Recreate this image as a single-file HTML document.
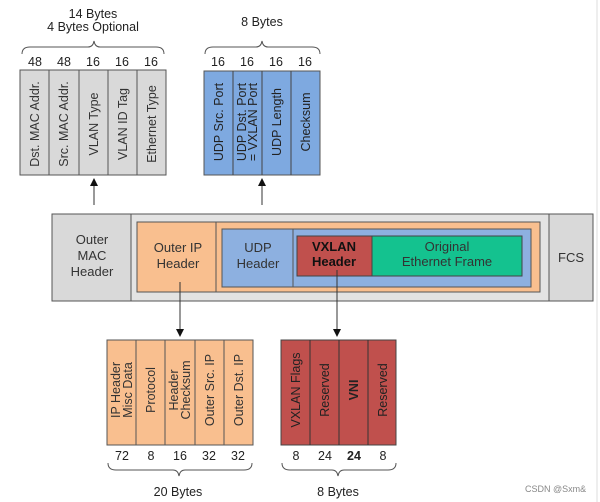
<!DOCTYPE html>
<html><head><meta charset="utf-8"><style>
html,body{margin:0;padding:0;background:#fff;}
svg{display:block;font-family:"Liberation Sans","DejaVu Sans",sans-serif;}
</style></head><body>
<svg width="600" height="502" viewBox="0 0 600 502" xmlns="http://www.w3.org/2000/svg">
<defs><marker id="ah" markerWidth="8" markerHeight="8" refX="4" refY="4" orient="auto"><path d="M0,0 L8,4 L0,8 z" fill="#111"/></marker></defs>
<line x1="597" y1="0" x2="597" y2="502" stroke="#ddd" stroke-width="1"/>
<text x="93" y="18" font-size="12.5" text-anchor="middle" fill="#222">14 Bytes</text>
<text x="93" y="31" font-size="12.5" text-anchor="middle" fill="#222">4 Bytes Optional</text>
<path d="M22,54 Q22,47 30,47 L88,47 Q93,47 94,41 Q95,47 100,47 L156,47 Q164,47 164,54" fill="none" stroke="#555" stroke-width="1"/>
<g font-size="12.5" text-anchor="middle" fill="#222">
<text x="35" y="66">48</text><text x="64" y="66">48</text><text x="93" y="66">16</text><text x="122" y="66">16</text><text x="151" y="66">16</text>
</g>
<rect x="20" y="70" width="146" height="105" fill="#d9d9d9" stroke="#555"/>
<g stroke="#555"><line x1="49" y1="70" x2="49" y2="175"/><line x1="79" y1="70" x2="79" y2="175"/><line x1="108" y1="70" x2="108" y2="175"/><line x1="137" y1="70" x2="137" y2="175"/></g>
<g font-size="12.5" fill="#333" text-anchor="middle">
<text transform="translate(39,124) rotate(-90)">Dst. MAC Addr.</text>
<text transform="translate(68,124) rotate(-90)">Src. MAC Addr.</text>
<text transform="translate(98,124) rotate(-90)">VLAN Type</text>
<text transform="translate(127,124) rotate(-90)">VLAN ID Tag</text>
<text transform="translate(156,124) rotate(-90)">Ethernet Type</text>
</g>
<text x="262" y="26" font-size="12.5" text-anchor="middle" fill="#222">8 Bytes</text>
<path d="M205,54 Q205,47 213,47 L256,47 Q261,47 262,41 Q263,47 268,47 L312,47 Q320,47 320,54" fill="none" stroke="#555" stroke-width="1"/>
<g font-size="12.5" text-anchor="middle" fill="#222">
<text x="218" y="66">16</text><text x="247" y="66">16</text><text x="276" y="66">16</text><text x="305" y="66">16</text>
</g>
<rect x="204" y="71" width="116" height="104" fill="#7ea9e0" stroke="#555"/>
<g stroke="#444"><line x1="233" y1="71" x2="233" y2="175"/><line x1="262" y1="71" x2="262" y2="175"/><line x1="291" y1="71" x2="291" y2="175"/></g>
<g font-size="12.5" fill="#222" text-anchor="middle">
<text transform="translate(223,122) rotate(-90)">UDP Src. Port</text>
<text transform="translate(246,122) rotate(-90)">UDP Dst. Port</text>
<text transform="translate(257,122) rotate(-90)">= VXLAN Port</text>
<text transform="translate(281,122) rotate(-90)">UDP Length</text>
<text transform="translate(310,122) rotate(-90)">Checksum</text>
</g>
<line x1="94" y1="205" x2="94" y2="182" stroke="#333" marker-end="url(#ah)"/>
<line x1="262" y1="205" x2="262" y2="182" stroke="#333" marker-end="url(#ah)"/>
<rect x="52" y="214" width="541" height="87" fill="#d9d9d9" stroke="#555"/>
<line x1="131" y1="214" x2="131" y2="301" stroke="#555"/>
<line x1="549" y1="214" x2="549" y2="301" stroke="#555"/>
<rect x="131" y="214" width="418" height="87" fill="#e3e3e3" stroke="#555"/>
<rect x="137" y="222" width="403" height="70" fill="#f9bf8f" stroke="#555"/>
<line x1="216" y1="222" x2="216" y2="292" stroke="#555"/>
<rect x="222" y="229" width="309" height="58" fill="#8db0e0" stroke="#555"/>
<line x1="293" y1="229" x2="293" y2="287" stroke="#555"/>
<rect x="297" y="236" width="75" height="40" fill="#c0504d" stroke="#444"/>
<rect x="372" y="236" width="150" height="40" fill="#14c28f" stroke="#444"/>
<g font-size="13" fill="#333" text-anchor="middle">
<text x="92" y="244">Outer</text><text x="92" y="260">MAC</text><text x="92" y="276">Header</text>
<text x="178" y="252">Outer IP</text><text x="178" y="268">Header</text>
<text x="258" y="252">UDP</text><text x="258" y="268">Header</text>
<text x="447" y="251">Original</text><text x="447" y="266">Ethernet Frame</text>
<text x="571" y="262">FCS</text>
</g>
<g font-size="13" fill="#111" text-anchor="middle" font-weight="bold">
<text x="334" y="251">VXLAN</text><text x="334" y="266">Header</text>
</g>
<line x1="180" y1="282" x2="180" y2="333" stroke="#333" marker-end="url(#ah)"/>
<line x1="337" y1="270" x2="337" y2="333" stroke="#333" marker-end="url(#ah)"/>
<rect x="107" y="340" width="146" height="105" fill="#f9bf8f" stroke="#555"/>
<g stroke="#555"><line x1="136" y1="340" x2="136" y2="445"/><line x1="165" y1="340" x2="165" y2="445"/><line x1="195" y1="340" x2="195" y2="445"/><line x1="224" y1="340" x2="224" y2="445"/></g>
<g font-size="12.5" fill="#333" text-anchor="middle">
<text transform="translate(120,390) rotate(-90)">IP Header</text>
<text transform="translate(132,390) rotate(-90)">Misc Data</text>
<text transform="translate(155,390) rotate(-90)">Protocol</text>
<text transform="translate(178,390) rotate(-90)">Header</text>
<text transform="translate(190,390) rotate(-90)">Checksum</text>
<text transform="translate(214,390) rotate(-90)">Outer Src. IP</text>
<text transform="translate(243,390) rotate(-90)">Outer Dst. IP</text>
</g>
<g font-size="12.5" text-anchor="middle" fill="#222">
<text x="122" y="460">72</text><text x="151" y="460">8</text><text x="180" y="460">16</text><text x="209" y="460">32</text><text x="238" y="460">32</text>
</g>
<path d="M108,463 Q108,470 116,470 L173,470 Q178,470 179,476 Q180,470 185,470 L244,470 Q252,470 252,463" fill="none" stroke="#555"/>
<text x="178" y="496" font-size="12.5" text-anchor="middle" fill="#222">20 Bytes</text>
<rect x="281" y="340" width="115" height="105" fill="#c0504d" stroke="#444"/>
<g stroke="#333"><line x1="310" y1="340" x2="310" y2="445"/><line x1="339" y1="340" x2="339" y2="445"/><line x1="368" y1="340" x2="368" y2="445"/></g>
<g font-size="12.5" fill="#222" text-anchor="middle">
<text transform="translate(300,390) rotate(-90)">VXLAN Flags</text>
<text transform="translate(329,390) rotate(-90)">Reserved</text>
<text transform="translate(358,390) rotate(-90)" font-weight="bold">VNI</text>
<text transform="translate(387,390) rotate(-90)">Reserved</text>
</g>
<g font-size="12.5" text-anchor="middle" fill="#222">
<text x="296" y="460">8</text><text x="325" y="460">24</text><text x="354" y="460" font-weight="bold">24</text><text x="383" y="460">8</text>
</g>
<path d="M282,463 Q282,470 290,470 L332,470 Q337,470 338,476 Q339,470 344,470 L388,470 Q396,470 396,463" fill="none" stroke="#555"/>
<text x="338" y="496" font-size="12.5" text-anchor="middle" fill="#222">8 Bytes</text>
<text x="525" y="492" font-size="9" fill="#888">CSDN @Sxm&amp;</text>
</svg>
</body></html>
